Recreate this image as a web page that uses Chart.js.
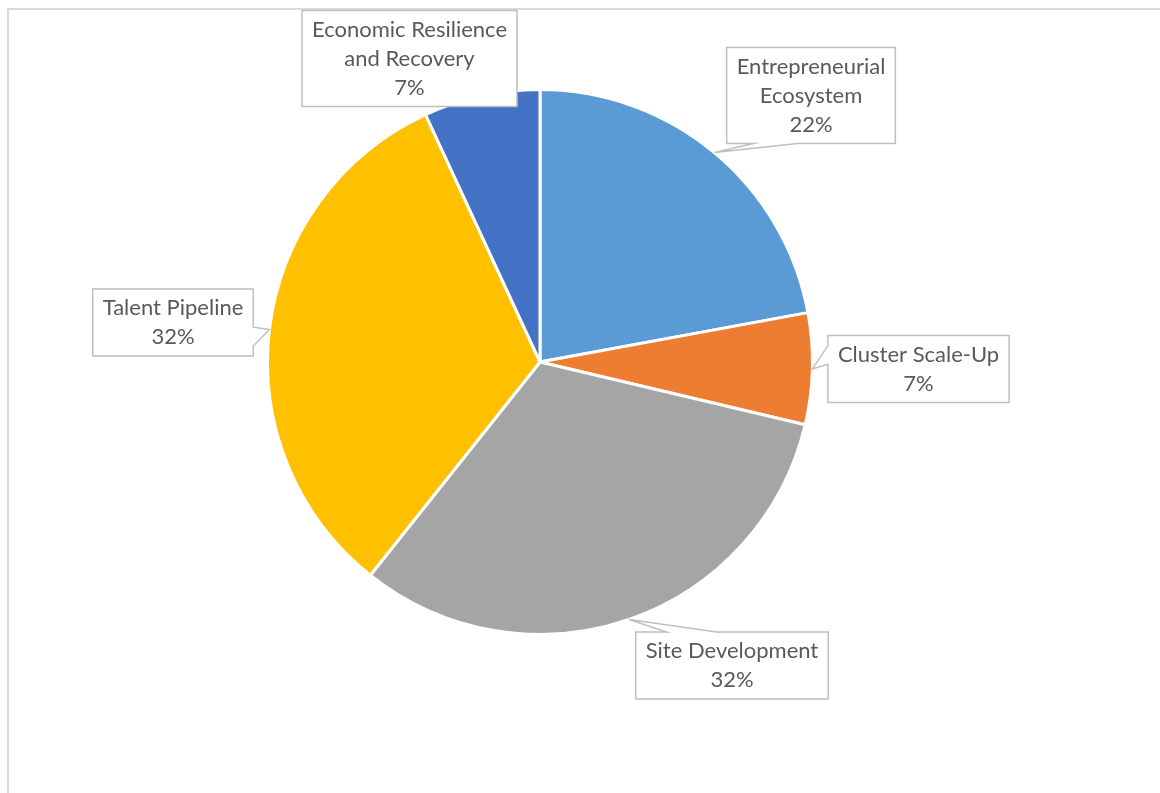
<!DOCTYPE html>
<html>
<head>
<meta charset="utf-8">
<script src="https://cdn.jsdelivr.net/npm/chart.js@4/dist/chart.umd.min.js"></script>
<style>
  html, body { margin: 0; padding: 0; background: #fff; }
  #frame { position: absolute; left: 7px; top: 8px; width: 1200px; height: 840px; border: 2px solid #d9d9d9; box-sizing: border-box; }
  #wrap { position: absolute; left: 0; top: 0; width: 1160px; height: 793px; }
</style>
</head>
<body>
<div id="frame"></div>
<div id="wrap"><canvas id="pie"></canvas></div>
<script>
// data (share of total, %)
var categories = ["Entrepreneurial Ecosystem", "Cluster Scale-Up", "Site Development", "Talent Pipeline", "Economic Resilience and Recovery"];
var shares = [22.1, 6.6, 32.0, 32.4, 6.9];
var sliceColors = ["#5B9BD5", "#ED7D31", "#A5A5A5", "#FFC000", "#4472C4"];

// callout placement (box centre) and wrap width, same order as categories
var calloutPos = [[811, 95.5], [918.5, 369], [732, 665.5], [173, 322.5], [409.5, 58.5]];
var wrapWidth = [170, 220, 220, 220, 220];

var FONT = '22px Lato';
var LINE_H = 29;

function wrapText(ctx, text, maxW) {
  var words = text.split(" "), lines = [], cur = "";
  for (var i = 0; i < words.length; i++) {
    var test = cur ? cur + " " + words[i] : words[i];
    if (cur && ctx.measureText(test).width > maxW) {
      lines.push(cur);
      cur = words[i];
    } else {
      cur = test;
    }
  }
  if (cur) lines.push(cur);
  return lines;
}

var callouts = {
  id: "callouts",
  afterDatasetsDraw: function (chart) {
    var ctx = chart.ctx;
    var meta = chart.getDatasetMeta(0);
    var total = shares.reduce(function (a, b) { return a + b; }, 0);
    ctx.save();
    ctx.font = FONT;
    meta.data.forEach(function (arc, i) {
      var p = arc.getProps(["x", "y", "startAngle", "endAngle", "outerRadius"], true);
      var mid = (p.startAngle + p.endAngle) / 2;
      var tx = p.x + Math.cos(mid) * p.outerRadius;
      var ty = p.y + Math.sin(mid) * p.outerRadius;

      var lines = wrapText(ctx, categories[i], wrapWidth[i]);
      lines.push(Math.round(shares[i] / total * 100) + "%");
      var w = 0;
      lines.forEach(function (l) { w = Math.max(w, ctx.measureText(l).width); });
      w += 20;
      var h = lines.length * LINE_H + 9;
      var cx = calloutPos[i][0], cy = calloutPos[i][1];
      var L = cx - w / 2, R = cx + w / 2, T = cy - h / 2, B = cy + h / 2;

      var side = null;
      if (ty > B) side = "bottom";
      else if (ty < T) side = "top";
      else if (tx < L) side = "left";
      else if (tx > R) side = "right";

      var a0, a1;
      if (side === "top" || side === "bottom") {
        if (tx < cx) { a0 = L + 0.16 * w; a1 = L + 0.42 * w; }
        else { a0 = R - 0.42 * w; a1 = R - 0.16 * w; }
      } else if (side) {
        if (ty <= cy) { a0 = T + 0.15 * h; a1 = T + 0.43 * h; }
        else { a0 = B - 0.43 * h; a1 = B - 0.15 * h; }
      }

      ctx.beginPath();
      ctx.moveTo(L, T);
      if (side === "top") { ctx.lineTo(a0, T); ctx.lineTo(tx, ty); ctx.lineTo(a1, T); }
      ctx.lineTo(R, T);
      if (side === "right") { ctx.lineTo(R, a0); ctx.lineTo(tx, ty); ctx.lineTo(R, a1); }
      ctx.lineTo(R, B);
      if (side === "bottom") { ctx.lineTo(a1, B); ctx.lineTo(tx, ty); ctx.lineTo(a0, B); }
      ctx.lineTo(L, B);
      if (side === "left") { ctx.lineTo(L, a1); ctx.lineTo(tx, ty); ctx.lineTo(L, a0); }
      ctx.closePath();
      ctx.fillStyle = "#ffffff";
      ctx.fill();
      ctx.lineWidth = 1.5;
      ctx.strokeStyle = "#bfbfbf";
      ctx.stroke();

      ctx.fillStyle = "#595959";
      ctx.textAlign = "center";
      ctx.textBaseline = "middle";
      lines.forEach(function (l, k) {
        ctx.fillText(l, cx, T + 4.5 + LINE_H * (k + 0.5));
      });
    });
    ctx.restore();
  }
};

new Chart(document.getElementById("pie"), {
  type: "pie",
  data: {
    labels: categories,
    datasets: [{
      data: shares,
      backgroundColor: sliceColors,
      borderColor: "#ffffff",
      borderWidth: 3
    }]
  },
  options: {
    responsive: true,
    maintainAspectRatio: false,
    animation: false,
    layout: { padding: { left: 266, top: 88, right: 346, bottom: 157 } },
    plugins: {
      legend: { display: false },
      tooltip: { enabled: false }
    }
  },
  plugins: [callouts]
});
</script>
</body>
</html>
